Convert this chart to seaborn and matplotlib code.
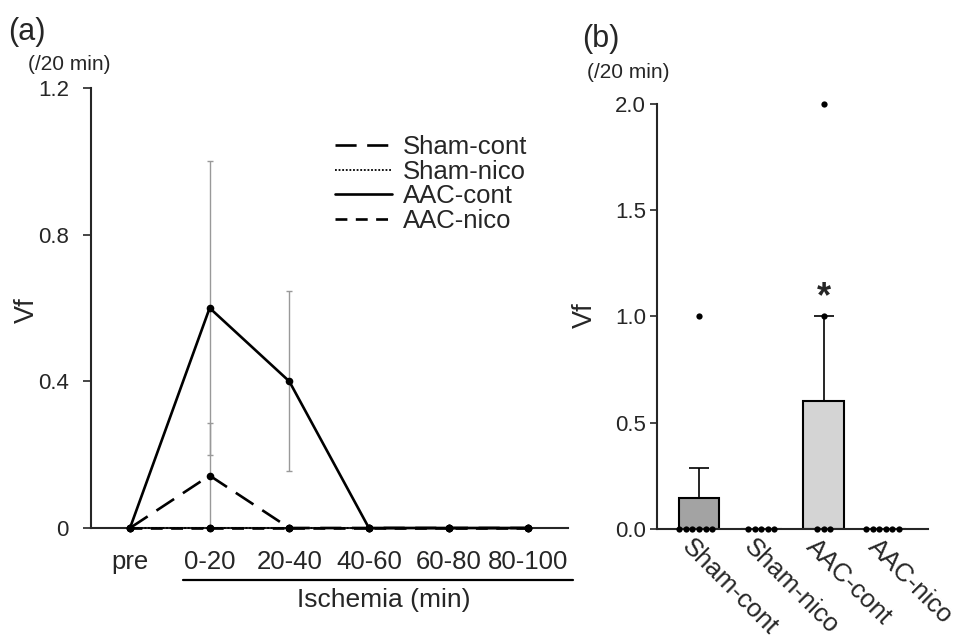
import numpy as np
import pandas as pd
import matplotlib
matplotlib.use("Agg")
import matplotlib.pyplot as plt
import matplotlib.transforms as mtransforms
from matplotlib.lines import Line2D
import seaborn as sns

# --- panel (a): Vf per 20 min over time (mean, SE) ---
time_labels = ["pre", "0-20", "20-40", "40-60", "60-80", "80-100"]
sham_cont_mean = [0, 0.143, 0, 0, 0, 0]
sham_cont_se = [0, 0.143, 0, 0, 0, 0]
sham_nico_mean = [0, 0, 0, 0, 0, 0]
aac_cont_mean = [0, 0.6, 0.4, 0, 0, 0]
aac_cont_se = [0, 0.4, 0.245, 0, 0, 0]
aac_nico_mean = [0, 0, 0, 0, 0, 0]

# --- panel (b): individual Vf counts per group ---
groups = ["Sham-cont", "Sham-nico", "AAC-cont", "AAC-nico"]
sham_cont_vf = [0, 0, 0, 0, 0, 0, 1]
sham_nico_vf = [0, 0, 0, 0, 0]
aac_cont_vf = [0, 0, 0, 1, 2]
aac_nico_vf = [0, 0, 0, 0, 0, 0]
bar_colors = ["#a3a3a3", "#d0d0d0", "#d4d4d4", "#d0d0d0"]

sns.set_theme(style="ticks")
plt.rcParams["font.family"] = ["Liberation Sans", "DejaVu Sans"]
plt.rcParams["axes.linewidth"] = 1.5

fig = plt.figure(figsize=(9.71, 6.38), dpi=100)
ax_a = fig.add_axes([0.0937, 0.1724, 0.4913, 0.6897])
ax_b = fig.add_axes([0.6766, 0.1713, 0.2791, 0.6657])

# ---------- panel (a) ----------
x = np.arange(len(time_labels))
styles = {
    "Sham-cont": dict(y=sham_cont_mean, ls=(0, (8, 4)), lw=1.9),
    "Sham-nico": dict(y=sham_nico_mean, ls=(0, (1, 1)), lw=1.3),
    "AAC-cont": dict(y=aac_cont_mean, ls="-", lw=1.9),
    "AAC-nico": dict(y=aac_nico_mean, ls=(0, (4.5, 3.2)), lw=1.9),
}

# error bars first (gray)
ax_a.errorbar(x, aac_cont_mean, yerr=aac_cont_se, fmt="none", ecolor="#999999",
              elinewidth=1, capsize=2.5, capthick=1, zorder=1)
ax_a.errorbar(x, sham_cont_mean, yerr=sham_cont_se, fmt="none", ecolor="#999999",
              elinewidth=1, capsize=2.5, capthick=1, zorder=1)

for name, st in styles.items():
    sns.lineplot(x=x, y=st["y"], ax=ax_a, color="black", linewidth=st["lw"],
                 marker="o", markersize=5.5, markeredgewidth=0, zorder=3)
    ax_a.lines[-1].set_linestyle(st["ls"])
for ln in ax_a.lines:
    ln.set_clip_on(False)

ax_a.set_xlim(-0.49, 5.5)
ax_a.set_ylim(0, 1.2)
ax_a.set_yticks([0, 0.4, 0.8, 1.2])
ax_a.set_yticklabels(["0", "0.4", "0.8", "1.2"])
ax_a.set_xticks(x)
ax_a.set_xticklabels(time_labels)
ax_a.tick_params(axis="x", length=0, pad=16, labelsize=18.5)
ax_a.tick_params(axis="y", length=6, width=1.2, labelsize=16, pad=10)
ax_a.spines[["top", "right"]].set_visible(False)
ax_a.set_xlabel("")
ax_a.set_ylabel("")

# ischemia bracket under the time labels
trans = mtransforms.blended_transform_factory(ax_a.transData, ax_a.transAxes)
ax_a.add_line(Line2D([0.67, 5.56], [-0.118, -0.118], transform=trans,
                     color="black", lw=1.6, clip_on=False))
ax_a.text(3.18, -0.163, "Ischemia (min)", transform=trans, ha="center", va="center",
          fontsize=19)

handles = [Line2D([], [], color="black", lw=st["lw"], ls=st["ls"]) for st in styles.values()]
ax_a.legend(handles, list(styles.keys()), loc="upper left", bbox_to_anchor=(0.5115, 0.893),
            frameon=False, fontsize=18.5, handlelength=2.2, handletextpad=0.45,
            labelspacing=0.02, borderpad=0, borderaxespad=0)

# ---------- panel (b) ----------
all_vf = [sham_cont_vf, sham_nico_vf, aac_cont_vf, aac_nico_vf]
means = [np.mean(v) for v in all_vf]
ses = [np.std(v, ddof=1) / np.sqrt(len(v)) for v in all_vf]

sns.barplot(x=groups, y=means, hue=groups, palette=bar_colors, order=groups,
            edgecolor="black", linewidth=1.5, width=0.65, legend=False, ax=ax_b)
ax_b.errorbar(np.arange(len(groups)), means, yerr=[np.zeros(len(groups)), ses],
              fmt="none", ecolor="black", elinewidth=1.2, capsize=7.5, capthick=1.2, zorder=2)

points = pd.DataFrame({
    "group": sum([[g] * len(v) for g, v in zip(groups, all_vf)], []),
    "vf": sum(all_vf, []),
})
sns.swarmplot(data=points, x="group", y="vf", order=groups, color="black", size=4.5,
              ax=ax_b, zorder=4)
for coll in ax_b.collections:
    coll.set_clip_on(False)

ax_b.text(2, 1.09, "*", ha="center", va="center", fontsize=26, fontweight="bold")

ax_b.set_xlim(-0.674, 3.676)
ax_b.set_ylim(0, 2.0)
ax_b.set_yticks([0, 0.5, 1.0, 1.5, 2.0])
ax_b.set_yticklabels(["0.0", "0.5", "1.0", "1.5", "2.0"])
ax_b.tick_params(axis="x", length=0, pad=4, labelsize=18.5)
ax_b.tick_params(axis="y", length=5, width=1.2, labelsize=16, pad=3)
shift = mtransforms.ScaledTranslation(-5 / 100, 0, fig.dpi_scale_trans)
for lab in ax_b.get_xticklabels():
    lab.set_rotation(-45)
    lab.set_ha("left")
    lab.set_va("top")
    lab.set_rotation_mode("anchor")
    lab.set_transform(lab.get_transform() + shift)
ax_b.spines[["top", "right"]].set_visible(False)
ax_b.set_xlabel("")
ax_b.set_ylabel("")

# ---------- labels ----------
fig.text(0.008, 0.95, "(a)", fontsize=22, va="center", ha="left")
fig.text(0.029, 0.899, "(/20 min)", fontsize=15, va="center", ha="left")
fig.text(0.028, 0.514, "Vf", fontsize=19.5, rotation=90, va="center", ha="center")
fig.text(0.599, 0.939, "(b)", fontsize=22, va="center", ha="left")
fig.text(0.605, 0.886, "(/20 min)", fontsize=15, va="center", ha="left")
fig.text(0.602, 0.506, "Vf", fontsize=19.5, rotation=90, va="center", ha="center")

fig.savefig("out.png", dpi=100)
